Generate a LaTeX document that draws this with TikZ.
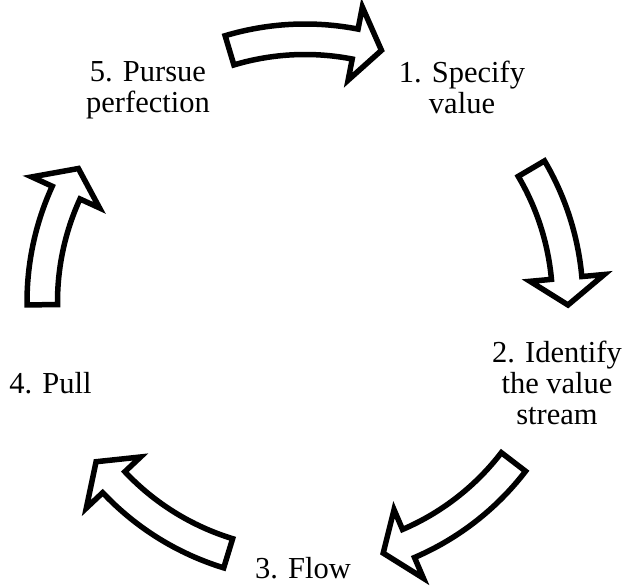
\documentclass[tikz,border=0pt]{standalone}
\usepackage{fontspec}
\setmainfont{Liberation Serif}
\tikzset{
  cycarrow/.style={draw=black, fill=white, line width=5.5pt, line join=miter},
  lbl/.style={font=\fontsize{30.5pt}{31pt}\selectfont, align=center, inner sep=0pt, anchor=base}
}
% #1 tail angle, #2 notch angle, #3 tip angle
\newcommand{\cycArrowDraw}[3]{%
  \draw[cycarrow] (#1:278pt) arc[start angle=#1, end angle=#2, radius=278pt]
    -- (#2:300.5pt) -- (#3:263pt) -- (#2:226pt) -- (#2:247.5pt)
    arc[start angle=#2, end angle=#1, radius=247.5pt] -- cycle;}
\begin{document}
\begin{tikzpicture}[x=1pt,y=1pt]
  \useasboundingbox (0,0) rectangle (626,586);
  \coordinate (C) at (305,284);
  \begin{scope}[shift={(C)}]
    \cycArrowDraw{106.7}{79.0}{73.1}
    \cycArrowDraw{30.5}{5.25}{-0.65}
    \cycArrowDraw{-37.5}{-66.8}{-72.7}
    \cycArrowDraw{-107}{-136.7}{-142.6}
    \cycArrowDraw{180.6}{155.4}{149.5}
  \end{scope}
  % base anchor = baseline of the last line
  \node[lbl] (n1) at (462,472.7) {1. Specify\\value};
  \node[lbl] (n2) at (557,161) {2. Identify\\the value\\stream};
  \node[lbl] (n3) at (303,7.7) {3. Flow};
  \node[lbl] (n4) at (50.5,192.5) {4. Pull};
  \node[lbl] (n5) at (148,473.3) {5. Pursue\\perfection};
\end{tikzpicture}
\end{document}
